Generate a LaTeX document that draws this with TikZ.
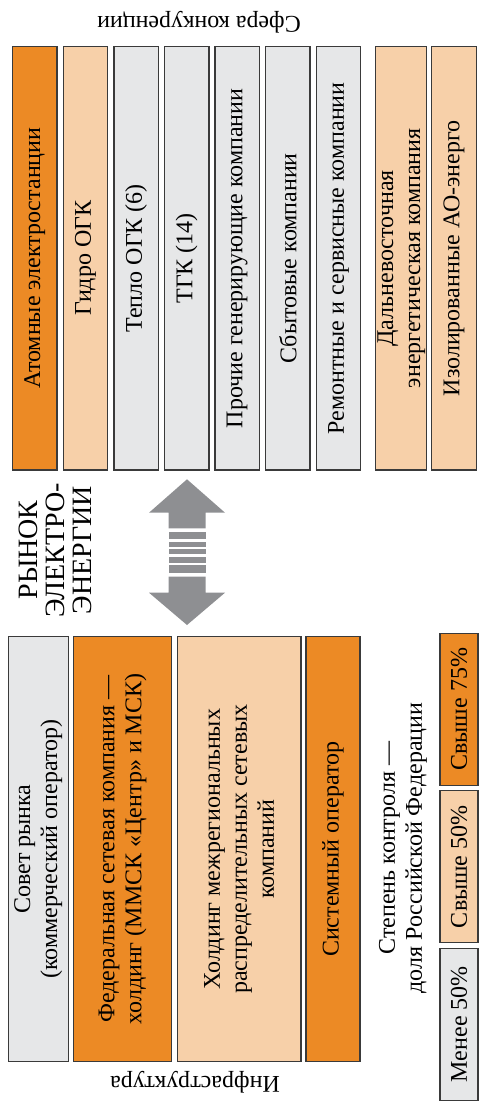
\documentclass[tikz,border=0pt]{standalone}
\usepackage{fontspec}
\setmainfont{Liberation Serif}
\definecolor{orng}{HTML}{EC8A25}
\definecolor{peach}{HTML}{F7D0A9}
\definecolor{lgrey}{HTML}{E6E7E8}
\definecolor{agrey}{HTML}{8E8F92}
\definecolor{edge}{HTML}{3A3A3A}
\begin{document}
\begin{tikzpicture}[x=0.5pt, y=-0.5pt,
    box/.style={draw=edge, line width=0.6pt, rotate=90, inner sep=0pt, align=center, font=\fontsize{12}{13.5}\selectfont},
    topcol/.style={box, minimum width=211.7pt, minimum height=22.2pt},
    botcol/.style={box, minimum width=212.5pt},
    legbox/.style={box, minimum width=75.9pt, minimum height=19pt},
    lbl/.style={font=\fontsize{12}{13.5}\selectfont, align=center, inner sep=0pt}]
    \useasboundingbox (0,0) rectangle (480,1102);

    \node[lbl, rotate=180] (sfera) at (199,22) {Сфера конкуренции};
    \node[topcol, fill=orng] (aes) at (34.7,258.3) {Атомные электростанции};
    \node[topcol, fill=peach] (gidro) at (85.5,258.3) {Гидро ОГК};
    \node[topcol, fill=lgrey] (teplo) at (136.2,258.3) {Тепло ОГК (6)};
    \node[topcol, fill=lgrey] (tgk) at (186.7,258.3) {ТГК (14)};
    \node[topcol, fill=lgrey] (proch) at (237.2,258.3) {Прочие генерирующие компании};
    \node[topcol, fill=lgrey] (sbyt) at (287.8,258.3) {Сбытовые компании};
    \node[topcol, fill=lgrey] (remont) at (338.5,258.3) {Ремонтные и сервисные компании};
    \node[topcol, fill=peach, minimum height=25.5pt] (dvek) at (401.2,258.3) {Дальневосточная\\энергетическая компания};
    \node[topcol, fill=peach] (izol) at (454,258.3) {Изолированные АО-энерго};

    \node[lbl, rotate=90, font=\fontsize{14}{13.5}\selectfont] (rynok) at (55,550) {РЫНОК\\ЭЛЕКТРО-\\ЭНЕРГИИ};

    \fill[agrey] (187,479.3) -- (225,512.7) -- (205.5,512.7) -- (205.5,528.3) -- (168.5,528.3) -- (168.5,512.7) -- (149,512.7) -- cycle;
    \foreach \ya/\yb in {531.7/539.3, 541.7/546.7, 549.3/554.3, 557.3/562.7, 565.3/573.3}
        \fill[agrey] (168.5,\ya) rectangle (205.5,\yb);
    \fill[agrey] (168.5,576.7) -- (205.5,576.7) -- (205.5,592.7) -- (225,592.7) -- (187,625) -- (149,592.7) -- (168.5,592.7) -- cycle;

    \node[botcol, fill=lgrey, minimum height=30pt] (sovet) at (38.3,849.2) {Совет рынка\\(коммерческий оператор)};
    \node[botcol, fill=orng, minimum height=49.2pt] (fsk) at (122.5,849.2) {Федеральная сетевая компания —\\холдинг (ММСК «Центр» и МСК)};
    \node[botcol, fill=peach, minimum height=61.8pt] (mrsk) at (239.2,849.2) {Холдинг межрегиональных\\распределительных сетевых\\компаний};
    \node[botcol, fill=orng, minimum height=27pt] (so) at (333,849.2) {Системный оператор};
    \node[lbl, rotate=180] (infra) at (195,1082) {Инфраструктура};

    \node[lbl, rotate=90] (stepen) at (403,848) {Степень контроля —\\доля Российской Федерации};
    \node[legbox, fill=orng] (l75) at (459,709.2) {Свыше 75\%};
    \node[legbox, fill=peach] (l50) at (459,866.7) {Свыше 50\%};
    \node[legbox, fill=lgrey] (lless) at (459,1024.2) {Менее 50\%};
\end{tikzpicture}
\end{document}
